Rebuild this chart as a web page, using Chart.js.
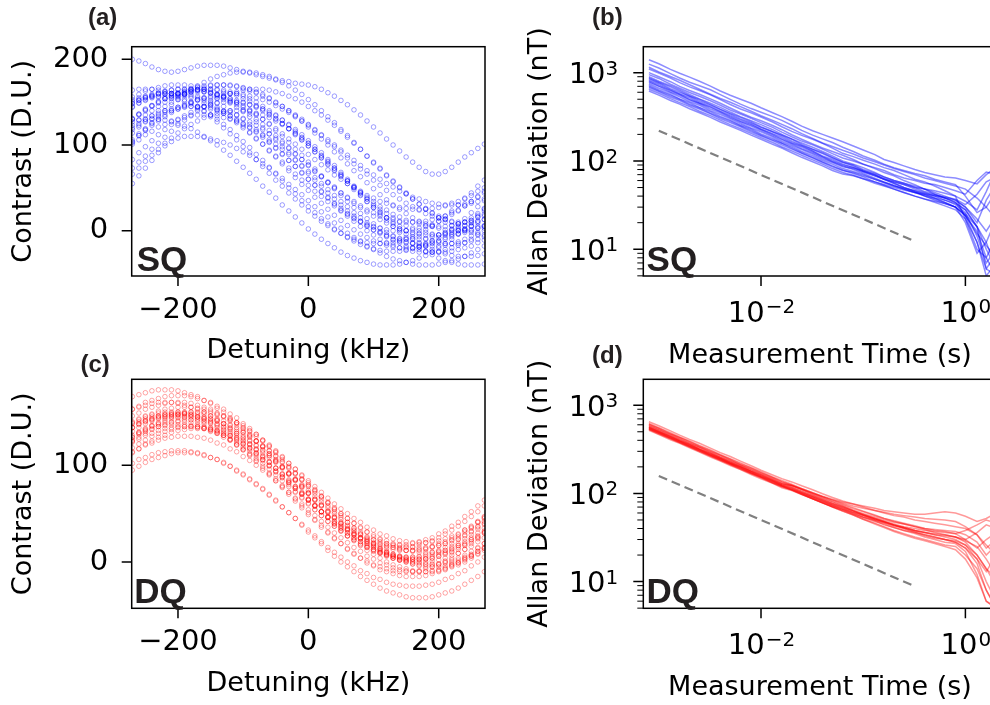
<!DOCTYPE html>
<html><head><meta charset="utf-8">
<script src="https://cdn.jsdelivr.net/npm/chart.js@4.4.1/dist/chart.umd.min.js"></script>
<style>
html,body{margin:0;padding:0;background:#fff;overflow:hidden;width:990px;height:705px;}
canvas{position:absolute;}
</style></head><body>
<canvas id="ca" width="495" height="375" style="left:0;top:0"></canvas>
<canvas id="cb" width="540" height="375" style="left:495px;top:0"></canvas>
<canvas id="cc" width="495" height="375" style="left:0;top:330px"></canvas>
<canvas id="cd" width="540" height="375" style="left:495px;top:330px"></canvas>
<script>
// ---------- categories / tick labels ----------
const detuning = [-270,-260,-250,-240,-230,-220,-210,-200,-190,-180,-170,-160,-150,-140,-130,-120,-110,-100,-90,-80,-70,-60,-50,-40,-30,-20,-10,0,10,20,30,40,50,60,70,80,90,100,110,120,130,140,150,160,170,180,190,200,210,220,230,240,250,260,270];
const tau = [0.0008,0.001,0.0013,0.0016,0.002,0.0025,0.0032,0.004,0.005,0.0063,0.008,0.01,0.013,0.016,0.02,0.025,0.032,0.04,0.05,0.063,0.08,0.1,0.13,0.16,0.2,0.25,0.32,0.4,0.5,0.63,0.8,1.0,1.3,1.6,2.0,2.5];
const detuneTicks = [-200,0,200];
const detuneTickLabels = ['\u2212200','0','200'];
const sqContrastTicks = [0,100,200];
const sqContrastLabels = ['0','100','200'];
const dqContrastTicks = [0,100];
const dqContrastLabels = ['0','100'];
const timeTicks = [0.01,1];
const timeTickBase = ['10','10'];
const timeTickExp = ['\u22122','0'];
const adevTicks = [10,100,1000];
const adevTickBase = ['10','10','10'];
const adevTickExp = ['1','2','3'];
const guideTau = [0.001,0.31];
const sqGuide = [220,12.5];
const dqGuide = [158,9];

// ---------- (a) SQ contrast sweeps ----------
const sq1 = [200,198,195,191,188,186,185,186,188,190,192,193,193,193,192,190,188,186,184,182,180,178,176,175,174,172,171,170,168,165,161,157,152,147,141,135,128,121,114,107,100,93,86,80,74,69,66,66,69,74,80,86,91,96,101];
const sq2 = [103,111,118,126,133,140,147,153,159,164,169,173,177,180,182,184,185,185,185,184,182,180,177,173,169,164,159,153,147,140,133,126,118,111,103,95,87,79,72,64,57,50,43,37,31,26,21,17,13,10,8,6,5,5,5];
const sq3 = [114,121,128,134,140,145,150,155,159,162,165,167,169,170,170,170,169,167,165,162,159,155,150,145,140,134,128,121,114,107,100,92,85,78,70,63,56,49,42,36,30,25,20,15,11,8,5,3,1,0,0,0,1,3,5];
const sq4 = [123,129,135,140,145,150,154,157,160,162,164,165,165,165,164,162,160,157,154,150,145,140,135,129,123,116,109,102,95,87,80,73,65,58,51,44,37,31,25,20,15,10,6,3,0,-2,-4,-5,-5,-5,-4,-2,0,3,6];
const sq5 = [130,136,141,146,150,154,157,159,161,162,162,162,161,159,157,154,150,146,141,136,130,124,117,110,103,95,88,80,72,64,56,49,41,34,27,20,14,8,3,-2,-6,-10,-13,-15,-17,-18,-18,-18,-17,-15,-13,-10,-6,-2,3];
const sq6 = [144,149,153,157,160,162,164,165,165,165,164,162,160,157,153,149,144,139,133,127,120,113,106,98,91,83,75,67,59,52,44,37,30,23,17,11,6,1,-3,-7,-10,-12,-14,-15,-15,-15,-14,-12,-10,-7,-3,1,6,11,17];
const sq7 = [148,152,155,157,159,160,160,160,159,157,155,152,148,144,139,134,128,122,115,108,101,93,86,78,70,62,54,47,39,32,25,18,12,6,1,-4,-8,-12,-15,-17,-19,-20,-20,-20,-19,-17,-15,-12,-8,-4,1,6,12,18,25];
const sq8 = [151,153,155,156,156,156,155,153,151,148,144,140,135,130,124,118,111,104,97,89,82,74,66,58,50,43,35,28,21,14,8,2,-3,-8,-12,-16,-19,-21,-23,-24,-24,-24,-23,-21,-19,-16,-12,-8,-3,2,8,14,21,28,35];
const sq9 = [164,165,165,165,164,162,160,157,153,149,144,139,133,127,120,113,106,98,91,83,75,67,59,52,44,37,30,23,17,11,6,1,-3,-7,-10,-12,-14,-15,-15,-15,-14,-12,-10,-7,-3,1,6,11,17,23,30,37,44,52,59];
const sq10 = [55,64,73,82,91,99,104,108,110,110,110,109,107,105,103,100,96,92,88,83,78,73,67,61,54,48,42,35,28,22,16,9,3,-3,-8,-13,-18,-22,-26,-30,-33,-35,-37,-39,-40,-40,-40,-39,-37,-35,-33,-30,-26,-22,-18];
const sq11 = [101,106,112,116,121,124,128,130,132,134,135,135,135,134,132,130,128,124,121,116,112,106,101,95,89,82,76,69,62,55,48,41,34,28,21,15,9,4,-1,-6,-11,-14,-18,-20,-22,-24,-25,-25,-25,-24,-22,-20,-18,-14,-11];
const sq12 = [83,91,98,105,112,118,124,129,134,138,142,145,147,149,150,150,150,149,147,145,142,138,134,129,124,118,112,105,98,91,83,76,68,60,52,44,37,29,22,15,8,2,-4,-9,-14,-18,-22,-25,-27,-29,-30,-30,-30,-29,-27];
const sq13 = [156,159,163,165,167,169,170,170,170,169,167,165,163,159,156,151,147,141,136,130,124,117,111,104,97,90,83,76,69,63,56,50,44,39,34,29,24,21,17,15,13,11,10,10,10,11,13,15,17,21,24,29,34,39,44];
const sq14 = [73,80,87,95,102,109,116,123,129,135,140,145,150,154,157,160,162,164,165,165,165,164,162,160,157,154,150,145,140,135,129,123,116,109,102,95,87,80,73,65,58,51,44,37,31,25,20,15,10,6,3,0,-2,-4,-5];
const sq15 = [127,129,130,130,130,129,127,125,122,119,115,110,105,100,94,88,81,74,67,60,52,45,38,30,23,16,9,2,-4,-10,-15,-20,-25,-29,-32,-35,-37,-39,-40,-40,-40,-39,-37,-35,-32,-29,-25,-20,-15,-10,-4,2,9,16,23];
const sq16 = [130,135,140,145,149,154,157,161,163,166,168,169,170,170,170,169,168,166,163,161,157,154,149,145,140,135,130,124,118,112,106,100,94,88,82,76,70,65,60,55,51,46,43,39,37,34,32,31,30,30,30,31,32,34,37];
const sq17 = [66,73,81,88,95,102,108,114,119,124,128,132,135,137,139,140,140,140,139,137,135,132,128,124,119,114,108,102,95,88,81,73,66,58,50,42,34,27,19,12,5,-2,-8,-14,-19,-24,-28,-32,-35,-37,-39,-40,-40,-40,-39];
const sq18 = [145,149,152,155,157,159,160,160,160,159,157,155,152,149,145,140,135,130,124,118,111,104,97,90,82,75,68,60,53,46,39,32,26,20,15,10,5,1,-2,-5,-7,-9,-10,-10,-10,-9,-7,-5,-2,1,5,10,15,20,26];
const sq19 = [131,136,142,146,151,154,158,160,162,164,165,165,165,164,162,160,158,154,151,146,142,136,131,125,119,112,106,99,92,85,78,71,64,58,51,45,39,34,28,24,19,16,12,10,8,6,5,5,5,6,8,10,12,16,19];
const sq20 = [120,125,130,134,137,140,142,144,145,145,145,144,142,140,137,134,130,125,120,115,109,103,96,89,82,75,67,60,53,45,38,31,24,17,11,5,0,-5,-10,-14,-17,-20,-22,-24,-25,-25,-25,-24,-22,-20,-17,-14,-10,-5,0];
const sq21 = [153,155,157,159,160,160,160,159,157,155,153,149,146,141,137,131,126,120,114,107,101,94,87,80,73,66,59,53,46,40,34,29,23,19,14,11,7,5,3,1,0,0,0,1,3,5,7,11,14,19,23,29,34,40,46];
const sq22 = [106,113,119,125,130,135,140,144,147,150,152,154,155,155,155,154,152,150,147,144,140,135,130,125,119,113,106,99,92,85,77,70,63,55,48,41,34,27,21,15,10,5,0,-4,-7,-10,-12,-14,-15,-15,-15,-14,-12,-10,-7];
const sq23 = [104,111,117,123,128,133,138,142,146,150,153,155,157,159,160,160,160,159,157,155,153,150,146,142,138,133,128,123,117,111,104,98,92,85,78,72,66,59,53,47,42,37,32,28,24,20,17,15,13,11,10,10,10,11,13];
const sq24 = [149,152,156,158,161,163,164,165,165,165,164,163,161,158,156,152,149,144,140,135,130,125,119,113,107,101,95,89,83,77,71,65,60,55,50,46,41,38,34,32,29,27,26,25,25,25,26,27,29,32,34,38,41,46,50];
const sq25 = [118,123,127,131,135,138,140,142,144,145,145,145,144,142,140,138,135,131,127,123,118,113,108,102,96,89,83,77,70,63,57,51,44,38,32,27,22,17,13,9,5,2,0,-2,-4,-5,-5,-5,-4,-2,0,2,5,9,13];
const sqSweeps = [sq1,sq2,sq3,sq4,sq5,sq6,sq7,sq8,sq9,sq10,sq11,sq12,sq13,sq14,sq15,sq16,sq17,sq18,sq19,sq20,sq21,sq22,sq23,sq24,sq25];

// ---------- (c) DQ contrast sweeps ----------
const dq1 = [135,139,143,146,148,150,152,153,153,153,152,150,148,146,143,139,135,131,126,121,116,110,104,97,91,85,78,71,65,59,52,46,40,35,30,25,21,17,13,10,8,6,4,3,3,3,4,6,8,10,13,17,21,25,30];
const dq2 = [129,133,135,138,140,141,142,142,142,141,140,138,135,133,129,126,121,117,112,107,102,96,90,84,78,72,66,60,54,48,42,37,32,27,23,18,15,11,9,6,4,3,2,2,2,3,4,6,9,11,15,18,23,27,32];
const dq3 = [129,134,137,141,143,146,148,149,150,150,150,149,148,146,143,141,137,134,129,125,120,115,110,104,98,92,86,80,74,68,62,56,50,45,40,35,31,26,23,19,17,14,12,11,10,10,10,11,12,14,17,19,23,26,31];
const dq4 = [139,143,145,147,149,150,150,150,149,147,145,143,139,136,131,127,121,116,110,104,97,91,84,77,70,63,56,49,43,36,30,24,19,13,9,4,1,-3,-5,-7,-9,-10,-10,-10,-9,-7,-5,-3,1,4,9,13,19,24,30];
const dq5 = [151,154,158,160,162,164,165,165,165,164,162,160,158,154,151,146,142,136,131,125,119,112,106,99,92,85,78,71,64,58,51,45,39,34,28,24,19,16,12,10,8,6,5,5,5,6,8,10,12,16,19,24,28,34,39];
const dq6 = [118,122,126,130,133,135,137,139,140,140,140,139,137,135,133,130,126,122,118,113,108,103,97,91,84,78,72,65,58,52,46,39,33,27,22,17,12,8,4,0,-3,-5,-7,-9,-10,-10,-10,-9,-7,-5,-3,0,4,8,12];
const dq7 = [143,145,148,150,151,152,152,152,151,150,148,145,143,139,136,131,127,122,117,112,106,100,94,88,82,76,70,64,58,52,47,42,37,33,28,25,21,19,16,14,13,12,12,12,13,14,16,19,21,25,28,33,37,42,47];
const dq8 = [126,132,136,141,144,148,150,152,154,155,155,155,154,152,150,148,144,141,136,132,126,121,115,109,102,96,89,82,75,68,61,54,48,41,35,29,24,18,14,9,6,2,0,-2,-4,-5,-5,-5,-4,-2,0,2,6,9,14];
const dq9 = [158,160,162,164,165,165,165,164,162,160,158,155,151,147,143,138,133,128,122,116,109,103,97,90,83,77,71,64,58,52,47,42,37,33,29,25,22,20,18,16,15,15,15,16,18,20,22,25,29,33,37,42,47,52,58];
const dq10 = [95,99,103,106,108,110,112,113,113,113,112,110,108,106,103,99,95,91,86,81,76,70,64,57,51,45,38,31,25,19,12,6,0,-5,-10,-15,-19,-23,-27,-30,-32,-34,-36,-37,-37,-37,-36,-34,-32,-30,-27,-23,-19,-15,-10];
const dq11 = [102,106,108,111,113,114,115,115,115,114,113,111,108,106,102,99,94,90,85,80,75,69,63,57,51,45,39,33,27,21,15,10,5,0,-4,-9,-12,-16,-18,-21,-23,-24,-25,-25,-25,-24,-23,-21,-18,-16,-12,-9,-4,0,5];
const dq12 = [124,127,131,133,136,138,139,140,140,140,139,138,136,133,131,127,124,119,115,110,105,100,94,88,82,76,70,64,58,52,46,40,35,30,25,21,16,13,9,7,4,2,1,0,0,0,1,2,4,7,9,13,16,21,25];
const dq13 = [171,173,175,177,178,178,178,177,175,173,171,167,164,159,155,149,144,138,132,125,119,112,105,98,91,84,77,71,64,58,52,47,41,37,32,29,25,23,21,19,18,18,18,19,21,23,25,29,32,37,41,47,52,58,64];
const dq14 = [114,117,121,123,126,128,129,130,130,130,129,128,126,123,121,117,114,109,105,100,95,90,84,78,72,66,60,54,48,42,36,30,25,20,15,11,6,3,-1,-3,-6,-8,-9,-10,-10,-10,-9,-8,-6,-3,-1,3,6,11,15];
const dq15 = [139,143,146,148,150,152,153,153,153,152,150,148,146,143,139,135,131,126,121,116,110,104,97,91,85,78,71,65,59,52,46,40,35,30,25,21,17,13,10,8,6,4,3,3,3,4,6,8,10,13,17,21,25,30,35];
const dq16 = [139,142,146,148,151,153,154,155,155,155,154,153,151,148,146,142,139,134,130,125,120,115,109,103,97,91,85,79,73,67,61,55,50,45,40,36,31,28,24,22,19,17,16,15,15,15,16,17,19,22,24,28,31,36,40];
const dq17 = [125,129,133,137,140,142,144,146,147,147,147,146,144,142,140,137,133,129,125,120,115,110,104,98,91,85,79,72,65,59,53,46,40,34,29,24,19,15,11,7,4,2,0,-2,-3,-3,-3,-2,0,2,4,7,11,15,19];
const dq18 = [145,148,150,152,154,155,155,155,154,152,150,148,145,141,137,133,128,123,118,112,106,99,93,87,80,73,67,61,54,48,42,37,32,27,23,19,15,12,10,8,6,5,5,5,6,8,10,12,15,19,23,27,32,37,42];
const dq19 = [131,134,138,140,142,144,145,145,145,144,142,140,138,134,131,126,122,116,111,105,99,92,86,79,72,65,58,51,44,38,31,25,19,14,8,4,-1,-4,-8,-10,-12,-14,-15,-15,-15,-14,-12,-10,-8,-4,-1,4,8,14,19];
const dq20 = [144,147,151,153,156,158,159,160,160,160,159,158,156,153,151,147,144,139,135,130,125,120,114,108,102,96,90,84,78,72,66,60,55,50,45,41,36,33,29,27,24,22,21,20,20,20,21,22,24,27,29,33,36,41,45];
const dq21 = [113,117,122,125,129,131,134,136,137,138,138,138,137,136,134,131,129,125,122,117,113,108,103,98,92,86,80,74,68,62,56,50,44,38,33,28,23,19,14,11,7,5,2,0,-1,-2,-2,-2,-1,0,2,5,7,11,14];
const dq22 = [158,161,165,167,169,171,172,172,172,171,169,167,165,161,158,153,149,143,138,132,126,119,113,106,99,92,85,78,71,65,58,52,46,41,35,31,26,23,19,17,15,13,12,12,12,13,15,17,19,23,26,31,35,41,46];
const dqSweeps = [dq1,dq2,dq3,dq4,dq5,dq6,dq7,dq8,dq9,dq10,dq11,dq12,dq13,dq14,dq15,dq16,dq17,dq18,dq19,dq20,dq21,dq22];

// ---------- (b) SQ Allan deviation (nT) ----------
const sqA1 = [1400,1260,1090,985,890,800,705,620,555,500,450,400,352,318,282,248,220,200,182,165,148,133,118,104,96,88,80,74,70,66,64,60,55,70,85,95];
const sqA2 = [1250,1130,975,870,780,712,640,565,498,440,392,356,318,288,254,222,196,178,162,143,128,114,102,92,84,78,72,68,62,58,54,40,26,30,45,52];
const sqA3 = [1100,990,870,770,690,628,560,495,436,388,350,315,276,244,216,195,176,158,140,122,112,102,92,84,78,70,62,58,52,46,40,22,10,8,14,30];
const sqA4 = [1000,900,790,700,628,570,505,450,398,352,314,285,252,226,198,176,156,140,128,116,104,92,82,74,68,60,54,48,42,38,34,28,18,6,9,20];
const sqA5 = [950,860,740,665,596,540,480,428,378,340,305,272,240,212,188,168,152,136,121,108,100,92,84,78,70,64,60,56,54,50,46,42,60,75,70,62];
const sqA6 = [900,800,712,640,566,505,452,405,358,318,286,258,226,200,178,160,143,128,114,100,92,84,74,66,60,56,50,45,42,38,34,24,12,5,7,16];
const sqA7 = [850,765,660,598,540,478,428,382,338,300,270,240,214,192,168,150,135,121,108,96,90,80,72,66,60,56,52,48,44,40,36,30,20,36,55,60];
const sqA8 = [820,740,640,575,522,460,412,366,326,292,262,230,204,185,162,148,130,114,104,92,85,76,68,62,56,50,46,42,38,34,30,20,9,12,22,28];
const sqA9 = [800,712,630,570,500,450,404,360,318,282,255,228,200,178,158,144,128,112,100,90,84,77,70,64,58,54,48,44,40,36,32,26,14,7,10,18];
const sqA10 = [780,700,608,555,490,444,388,350,310,276,248,222,194,174,155,138,124,110,98,88,80,72,64,58,53,48,44,40,37,34,30,24,16,8,5,8];
const sqA11 = [750,668,592,532,470,428,372,336,302,266,236,214,188,166,150,135,120,106,96,86,82,75,68,62,58,54,50,48,46,43,40,35,28,45,80,90];
const sqA12 = [720,640,568,505,458,405,362,320,290,255,230,202,180,160,145,128,115,102,92,82,76,70,62,57,52,48,44,41,38,36,33,28,18,10,6,12];
const sqA13 = [700,622,552,498,440,398,348,312,282,250,222,196,174,158,140,124,110,98,88,79,72,66,58,53,48,44,40,37,34,31,28,22,12,6,5,9];
const sqA14 = [680,610,530,484,428,386,342,302,272,244,214,192,170,152,136,122,108,96,86,78,74,68,62,57,52,49,46,43,41,39,37,32,42,58,66,62];
const sqA15 = [650,585,508,458,412,366,326,290,258,232,205,184,162,145,130,116,103,92,82,74,69,63,56,52,48,44,40,37,35,33,30,24,15,11,8,5];
const sqA16 = [620,556,484,440,390,352,312,276,248,222,196,176,154,140,124,110,98,88,78,71,68,63,58,54,50,47,44,42,40,38,36,30,22,16,24,35];
const sqA17 = [1150,1020,905,820,730,648,570,510,462,412,366,325,288,260,232,204,180,160,146,132,120,108,98,90,82,76,70,64,60,56,52,48,38,30,22,30];
const sqA18 = [870,780,690,618,545,496,438,386,346,312,278,244,214,196,176,154,136,124,110,97,88,78,70,62,56,50,45,40,36,33,30,25,18,12,6,10];
const sqAdev = [sqA1,sqA2,sqA3,sqA4,sqA5,sqA6,sqA7,sqA8,sqA9,sqA10,sqA11,sqA12,sqA13,sqA14,sqA15,sqA16,sqA17,sqA18];

// ---------- (d) DQ Allan deviation (nT) ----------
const dqA1 = [650,585,512,458,410,370,326,290,262,232,206,183,162,147,135,122,110,99,90,82,76,70,64,60,56,54,50,48,46,44,42,40,34,26,20,28];
const dqA2 = [620,556,488,436,394,350,312,276,248,222,196,176,154,140,127,114,102,92,84,76,69,63,57,52,48,45,42,39,36,34,32,28,20,14,9,12];
const dqA3 = [600,538,468,426,380,338,300,270,240,212,190,170,150,135,124,112,100,90,81,74,67,62,56,52,49,46,43,40,38,37,35,30,36,44,40,32];
const dqA4 = [590,525,465,416,372,335,296,262,236,211,186,166,147,131,120,108,96,86,77,70,63,57,51,47,43,40,36,33,31,30,28,24,16,8,5,7];
const dqA5 = [580,520,452,412,366,330,290,258,232,208,183,164,145,130,123,113,102,93,86,80,76,72,68,64,62,60,58,58,60,62,60,55,48,52,60,58];
const dqA6 = [570,508,448,402,362,322,286,254,228,204,180,162,142,128,117,105,93,84,76,69,63,57,52,48,44,41,38,36,34,32,30,26,18,10,6,9];
const dqA7 = [560,500,440,394,356,316,281,250,223,200,178,158,139,125,114,102,91,82,73,66,60,54,49,44,41,38,35,32,30,28,27,22,12,6,5,6];
const dqA8 = [555,498,432,394,350,316,276,249,221,199,176,156,139,124,116,104,94,85,77,71,64,59,54,50,47,45,42,40,39,38,37,34,28,20,26,38];
const dqA9 = [550,490,433,388,348,312,274,246,219,197,174,155,137,123,113,101,91,82,74,67,61,56,50,47,44,41,38,36,34,33,32,29,25,18,12,14];
const dqA10 = [540,484,424,380,342,305,271,240,217,192,171,152,134,121,110,98,87,78,70,63,57,51,46,42,38,35,32,30,28,26,25,20,14,8,5,5];
const dqA11 = [535,480,418,379,337,304,266,240,213,191,168,152,132,120,111,101,90,81,74,68,61,57,52,48,45,42,40,38,37,36,35,38,44,50,46,40];
const dqA12 = [530,472,417,374,336,299,265,236,213,188,168,150,131,119,109,98,87,79,71,65,58,53,48,45,41,38,36,34,32,30,29,26,20,14,11,16];
const dqA13 = [520,466,406,369,328,295,259,233,207,186,164,146,130,116,108,97,87,78,71,65,59,54,50,46,43,41,38,36,35,34,32,30,24,30,36,42];
const dqA14 = [610,548,476,432,386,344,306,272,245,216,194,172,152,136,124,111,98,88,80,72,64,58,52,48,44,40,37,34,32,30,28,24,18,13,20,26];
const dqA15 = [565,506,444,398,358,318,284,252,226,202,178,160,141,127,122,111,100,92,84,78,72,68,64,61,58,56,54,52,51,50,48,42,34,24,30,36];
const dqA16 = [545,488,426,386,343,309,272,244,217,195,171,154,135,122,110,99,87,78,70,63,57,51,45,41,37,34,31,29,27,25,23,18,11,6,5,8];
const dqAdev = [dqA1,dqA2,dqA3,dqA4,dqA5,dqA6,dqA7,dqA8,dqA9,dqA10,dqA11,dqA12,dqA13,dqA14,dqA15,dqA16];

// ---------- helpers ----------
const FONT = "'DejaVu Sans', sans-serif";
const TICK_PX = 29;
const pts = (xs, ys) => ys.map((y, i) => ({x: xs[i], y: y}));

const decor = {
  id: 'decor',
  afterDatasetsDraw(chart, args, o) {
    const ctx = chart.ctx, a = chart.chartArea;
    const xs = chart.scales.x, ys = chart.scales.y;
    ctx.save();
    ctx.strokeStyle = '#000';
    ctx.lineWidth = 1.5;
    ctx.strokeRect(a.left, a.top, a.right - a.left, a.bottom - a.top);
    ctx.beginPath();
    xs.ticks.forEach(t => { const p = xs.getPixelForValue(t.value); ctx.moveTo(p, a.bottom); ctx.lineTo(p, a.bottom + 10); });
    ys.ticks.forEach(t => { const p = ys.getPixelForValue(t.value); ctx.moveTo(a.left, p); ctx.lineTo(a.left - 10, p); });
    ctx.stroke();
    if (o.log) {
      ctx.lineWidth = 1;
      ctx.beginPath();
      for (let e = 0; e <= 3; e++) {
        for (let m = 2; m <= 9; m++) {
          const v = m * Math.pow(10, e);
          if (v < ys.min || v > ys.max) continue;
          const p = ys.getPixelForValue(v);
          ctx.moveTo(a.left, p); ctx.lineTo(a.left - 6, p);
        }
      }
      ctx.stroke();
      // power-of-ten tick labels: base + raised exponent
      const big = TICK_PX + "px 'DejaVu Sans'", small = "20px 'DejaVu Sans'";
      ctx.fillStyle = '#000';
      ctx.textAlign = 'left';
      ctx.textBaseline = 'alphabetic';
      o.yVals.forEach((v, i) => {
        const p = ys.getPixelForValue(v);
        ctx.font = small; const we = ctx.measureText(o.yExp[i]).width;
        ctx.font = big; const wb = ctx.measureText(o.yBase[i]).width;
        const right = a.left - 25;
        ctx.fillText(o.yBase[i], right - we - wb, p + 10.5);
        ctx.font = small; ctx.fillText(o.yExp[i], right - we, p + 2);
      });
      o.xVals.forEach((v, i) => {
        const p = xs.getPixelForValue(v);
        ctx.font = small; const we = ctx.measureText(o.xExp[i]).width;
        ctx.font = big; const wb = ctx.measureText(o.xBase[i]).width;
        const left = p - (we + wb) / 2;
        const base = a.bottom + 45.7;
        ctx.fillText(o.xBase[i], left, base);
        ctx.font = small; ctx.fillText(o.xExp[i], left + wb + 1, base - 8.5);
      });
    }
    ctx.fillStyle = '#231f20';
    ctx.textAlign = 'left';
    ctx.textBaseline = 'alphabetic';
    ctx.font = "bold 24px 'Liberation Sans', Arial, sans-serif";
    ctx.fillText(o.panel, o.px, o.py);
    ctx.font = "bold 35px 'Liberation Sans', Arial, sans-serif";
    ctx.fillText(o.tag, a.left + o.tx, a.bottom - o.ty);
    ctx.restore();
  }
};

function makeScales(o) {
  const isLog = o.yType === 'logarithmic';
  return {
    x: {
      type: o.xType, min: o.xMin, max: o.xMax, bounds: 'data',
      afterFit: s => { s.height = o.xH; },
      afterBuildTicks: s => { s.ticks = o.xTicks.map(v => ({value: v})); },
      grid: {display: false, drawTicks: false},
      border: {display: false},
      ticks: {display: !isLog, autoSkip: false, maxRotation: 0, minRotation: 0, padding: 20, color: '#000',
              font: {family: FONT, size: TICK_PX, lineHeight: 1},
              callback: (v, i) => o.xLabels ? o.xLabels[i] : ''},
      title: {display: true, text: o.xTitle, color: '#000',
              font: {family: FONT, size: 27, lineHeight: 1}, padding: {top: 0, bottom: o.xTitlePad}}
    },
    y: {
      type: o.yType, min: o.yMin, max: o.yMax, bounds: 'data',
      afterFit: s => { s.width = o.yW; },
      afterBuildTicks: s => { s.ticks = o.yTicks.map(v => ({value: v})); },
      grid: {display: false, drawTicks: false},
      border: {display: false},
      ticks: {display: !isLog, autoSkip: false, padding: 23.4, color: '#000',
              font: {family: FONT, size: TICK_PX, lineHeight: 1},
              callback: (v, i) => o.yLabels ? o.yLabels[i] : ''},
      title: {display: true, text: o.yTitle, color: '#000',
              font: {family: FONT, size: 27, lineHeight: 1}, padding: {top: o.yTitlePad, bottom: 0}}
    }
  };
}

function makeChart(id, datasets, o) {
  const isLog = o.yType === 'logarithmic';
  return new Chart(document.getElementById(id), {
    type: 'scatter',
    data: {datasets: datasets},
    options: {
      responsive: false, animation: false, devicePixelRatio: 1,
      layout: {padding: {left: 0, top: o.top, right: o.right, bottom: 0}},
      plugins: {legend: {display: false}, tooltip: {enabled: false},
                decor: {panel: o.panel, px: o.px, py: o.py, tag: o.tag, tx: o.tx, ty: o.ty, log: isLog,
                        xVals: o.xTicks, xBase: o.xBase, xExp: o.xExp, yVals: o.yTicks, yBase: o.yBase, yExp: o.yExp}},
      scales: makeScales(o)
    },
    plugins: [decor]
  });
}

function sweepSets(list, color) {
  return list.map(ys => ({data: pts(detuning, ys), showLine: false, pointStyle: 'circle', pointRadius: 2.3,
    pointBorderWidth: 1, pointBackgroundColor: 'rgba(0,0,0,0)', pointBorderColor: color}));
}
function adevSets(list, color, guide) {
  const sets = list.map(ys => ({data: pts(tau, ys), showLine: true, borderColor: color, borderWidth: 1.5,
    pointRadius: 0, tension: 0, fill: false}));
  sets.push({data: pts(guideTau, guide), showLine: true, borderColor: '#808080', borderWidth: 2.2,
    borderDash: [9, 5], pointRadius: 0, fill: false});
  return sets;
}

const contrastCommon = {xType: 'linear', xMin: -271, xMax: 271, xTicks: detuneTicks, xLabels: detuneTickLabels,
  xTitle: 'Detuning (kHz)', yType: 'linear', yTitle: 'Contrast (D.U.)', yW: 131.7, right: 10, yTitlePad: 10.5};
const adevCommon = {xType: 'logarithmic', xMin: 7.05e-4, xMax: 2.02, xTicks: timeTicks, xBase: timeTickBase, xExp: timeTickExp,
  xTitle: 'Measurement Time (s)', yType: 'logarithmic', yMin: 4.98, yMax: 1968, yTicks: adevTicks, yBase: adevTickBase, yExp: adevTickExp,
  yTitle: 'Allan Deviation (nT)', yW: 148.3, right: 38.4, yTitlePad: 31.5};

makeChart('ca', sweepSets(sqSweeps, 'rgba(0,0,255,0.38)'), Object.assign({}, contrastCommon, {
  yMin: -52.9, yMax: 214.7, yTicks: sqContrastTicks, yLabels: sqContrastLabels,
  top: 46.7, xH: 99, xTitlePad: 10.5, panel: '(a)', px: 88, py: 25, tag: 'SQ', tx: 5, ty: 5.5}));
makeChart('cb', adevSets(sqAdev, 'rgba(0,0,255,0.45)', sqGuide), Object.assign({}, adevCommon, {
  top: 46.7, xH: 99, xTitlePad: 5.5, panel: '(b)', px: 97, py: 25, tag: 'SQ', tx: 3.3, ty: 5}));
makeChart('cc', sweepSets(dqSweeps, 'rgba(255,0,0,0.35)'), Object.assign({}, contrastCommon, {
  yMin: -47.9, yMax: 188.9, yTicks: dqContrastTicks, yLabels: dqContrastLabels,
  top: 49.3, xH: 96.7, xTitlePad: 8, panel: '(c)', px: 80.5, py: 41.7, tag: 'DQ', tx: 2.5, ty: 5}));
makeChart('cd', adevSets(dqAdev, 'rgba(255,0,0,0.4)', dqGuide), Object.assign({}, adevCommon, {
  top: 49.3, xH: 96.7, xTitlePad: 3.5, panel: '(d)', px: 97, py: 33, tag: 'DQ', tx: 3.2, ty: 5}));
</script>
</body></html>
